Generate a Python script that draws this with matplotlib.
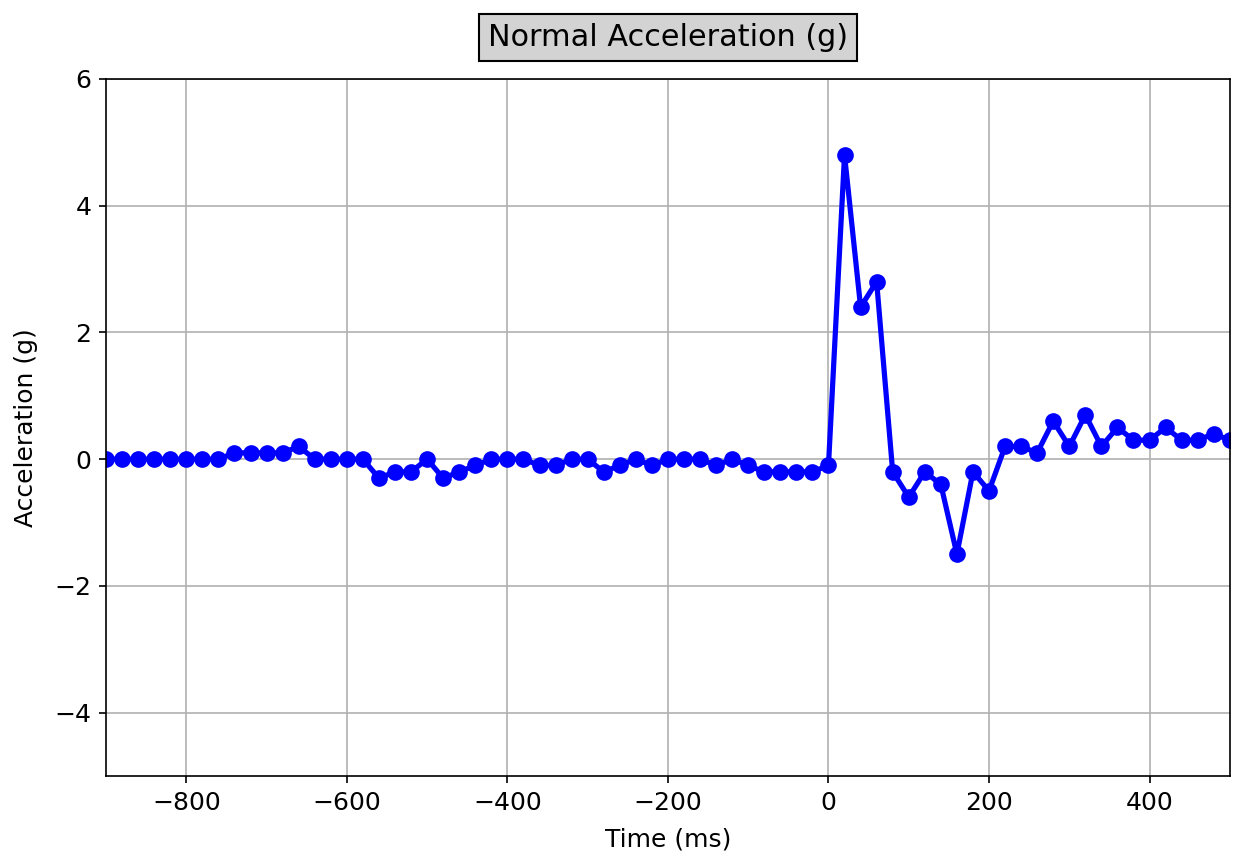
import matplotlib
matplotlib.use("Agg")
import matplotlib.pyplot as plt
import numpy as np

time_ms = list(range(-900, 501, 20))
accel_g = [
    0, 0, 0, 0, 0, 0, 0, 0, 0.1, 0.1,          # -900 .. -720
    0.1, 0.1, 0.2, 0, 0, 0, 0, -0.3, -0.2, -0.2,  # -700 .. -520
    0, -0.3, -0.2, -0.1, 0, 0, 0, -0.1, -0.1, 0,  # -500 .. -320
    0, -0.2, -0.1, 0, -0.1, 0, 0, 0, -0.1, 0,     # -300 .. -120
    -0.1, -0.2, -0.2, -0.2, -0.2, -0.1,           # -100 .. 0
    4.8, 2.4, 2.8, -0.2, -0.6, -0.2, -0.4, -1.5, -0.2, -0.5,  # 20 .. 200
    0.2, 0.2, 0.1, 0.6, 0.2, 0.7, 0.2, 0.5, 0.3, 0.3,          # 220 .. 400
    0.5, 0.3, 0.3, 0.4, 0.3,                                   # 420 .. 500
]

fig = plt.figure(figsize=(8.24, 5.7467), dpi=150)
ax = fig.add_axes([0.0858, 0.0998, 0.9092, 0.8086])
ax.plot(time_ms, accel_g, color="blue", linewidth=2.5, marker="o", markersize=7)
ax.set_xlim(-900, 500)
ax.set_ylim(-5, 6)
ax.set_xticks([-800, -600, -400, -200, 0, 200, 400])
ax.set_yticks([-4, -2, 0, 2, 4, 6])
ax.tick_params(labelsize=12)
ax.grid(True, color="#b0b0b0", linewidth=0.8)
ax.set_xlabel("Time (ms)", fontsize=12, labelpad=6)
ax.set_ylabel("Acceleration (g)", fontsize=12, labelpad=8)
ax.set_title("Normal Acceleration (g)", fontsize=14.5, pad=16,
             bbox=dict(facecolor="lightgray", edgecolor="black", boxstyle="square,pad=0.3"))
fig.savefig("out.png", dpi=150)
